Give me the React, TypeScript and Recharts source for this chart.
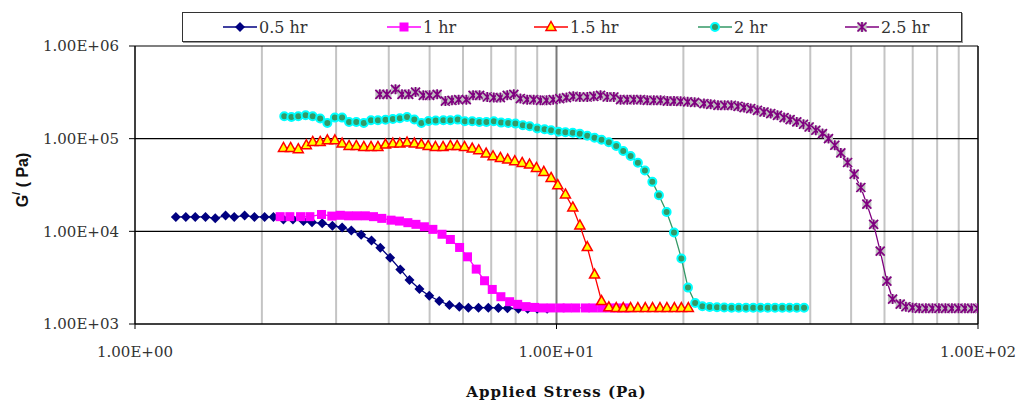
import React from 'react'
import { LineChart, Line, XAxis, YAxis, ReferenceLine } from 'recharts'

// stress (Pa) and storage modulus G' (Pa), one pair of arrays per curing time
const stress05 = [1.25, 1.32, 1.39, 1.47, 1.55, 1.64, 1.72, 1.82, 1.92, 2.03, 2.13, 2.25, 2.37, 2.51, 2.63, 2.78, 2.94, 3.10, 3.26, 3.44, 3.64, 3.82, 4.03, 4.26, 4.48, 4.73, 4.99, 5.27, 5.57, 5.88, 6.18, 6.53, 6.89, 7.28, 7.65, 8.12, 8.54, 9.00, 9.50]
const g05 = [14300, 14300, 14300, 14300, 13800, 14800, 14300, 14800, 14300, 14300, 14300, 13400, 13400, 12900, 12500, 12200, 11500, 11000, 10200, 9160, 7980, 6640, 5180, 3880, 2980, 2380, 2020, 1770, 1600, 1535, 1500, 1500, 1500, 1490, 1480, 1460, 1460, 1460, 1460]

const stress1 = [2.21, 2.33, 2.47, 2.60, 2.77, 2.93, 3.07, 3.21, 3.36, 3.52, 3.68, 3.85, 4.05, 4.24, 4.44, 4.64, 4.86, 5.09, 5.35, 5.60, 5.89, 6.15, 6.45, 6.75, 7.04, 7.38, 7.74, 8.09, 8.47, 8.87, 9.28, 9.71, 10.2, 10.6, 11.1, 11.7, 12.2, 12.8, 13.4, 14.0, 14.7]
const g1 = [14400, 14400, 14400, 14400, 15200, 14600, 14900, 14700, 14700, 14700, 14400, 13800, 13200, 12900, 12400, 11900, 11200, 10500, 9300, 8170, 6700, 5310, 3910, 2930, 2360, 1970, 1740, 1630, 1540, 1510, 1490, 1490, 1490, 1490, 1490, 1490, 1490, 1490, 1490, 1490, 1490]

const stress15 = [2.25, 2.34, 2.44, 2.55, 2.64, 2.75, 2.86, 2.98, 3.10, 3.22, 3.35, 3.49, 3.63, 3.77, 3.93, 4.09, 4.25, 4.42, 4.60, 4.78, 4.96, 5.16, 5.38, 5.60, 5.81, 6.05, 6.31, 6.54, 6.81, 7.07, 7.36, 7.66, 7.96, 8.29, 8.63, 8.96, 9.33, 9.71, 10.07, 10.50, 10.93, 11.36, 11.83, 12.31, 12.79, 13.31, 13.86, 14.40, 14.99, 15.60, 16.24, 16.90, 17.60, 18.28, 19.04, 19.78, 20.55]
const g15 = [79400, 79400, 76900, 84900, 92100, 92100, 96100, 96100, 88600, 83400, 83400, 81400, 81400, 81400, 86400, 88600, 88600, 90800, 88600, 86400, 83400, 81400, 81400, 83400, 83400, 81400, 78200, 75000, 69100, 64600, 61900, 59500, 57100, 54700, 52600, 48300, 43800, 37700, 31500, 25000, 18100, 11580, 6760, 3415, 1770, 1514, 1487, 1487, 1487, 1487, 1487, 1487, 1487, 1487, 1487, 1487, 1487]

const stress2 = [2.26, 2.35, 2.44, 2.54, 2.64, 2.75, 2.86, 2.98, 3.10, 3.22, 3.35, 3.49, 3.63, 3.77, 3.93, 4.09, 4.25, 4.42, 4.60, 4.78, 4.97, 5.17, 5.39, 5.60, 5.83, 6.06, 6.31, 6.56, 6.82, 7.10, 7.39, 7.68, 7.99, 8.32, 8.64, 9.00, 9.37, 9.71, 10.11, 10.50, 10.93, 11.36, 11.83, 12.31, 12.79, 13.31, 13.86, 14.40, 14.99, 15.60, 16.21, 16.88, 17.50, 18.25, 19.00, 19.78, 20.51, 21.33, 22.19, 23.09, 24.03, 25.00, 26.02, 27.06, 28.16, 29.29, 30.48, 31.71, 33.00, 34.33, 35.73, 37.16, 38.67]
const g2 = [174300, 171300, 174300, 178700, 174300, 164700, 147700, 168800, 168800, 151400, 151400, 147700, 157900, 157900, 159800, 163100, 165900, 171300, 161000, 147700, 155100, 156700, 157900, 157900, 160600, 154000, 154000, 151400, 151400, 154000, 149100, 147700, 145400, 139400, 136000, 128500, 126300, 123200, 118700, 117200, 115800, 112900, 107500, 102200, 97300, 91500, 83200, 73700, 64900, 55000, 45300, 34200, 24500, 16200, 9730, 5100, 2470, 1684, 1551, 1525, 1514, 1506, 1500, 1500, 1500, 1500, 1500, 1500, 1500, 1500, 1500, 1500, 1500]

const stress25 = [3.81, 3.96, 4.15, 4.30, 4.46, 4.63, 4.83, 5.00, 5.21, 5.45, 5.65, 5.86, 6.11, 6.34, 6.57, 6.85, 7.10, 7.36, 7.64, 7.92, 8.21, 8.52, 8.83, 9.16, 9.47, 9.82, 10.18, 10.56, 10.96, 11.36, 11.83, 12.26, 12.72, 13.19, 13.68, 14.19, 14.72, 15.26, 15.83, 16.42, 17.02, 17.66, 18.32, 19.00, 19.70, 20.47, 21.27, 22.38, 23.22, 24.16, 25.06, 26.00, 26.96, 27.86, 28.89, 29.97, 31.07, 32.23, 33.44, 34.67, 35.83, 37.16, 38.55, 39.75, 41.23, 42.76, 44.19, 45.74, 47.27, 49.04, 50.84, 52.73, 54.49, 56.54, 58.61, 60.79, 62.72, 65.37, 67.45, 69.96, 72.54, 75.24, 77.97, 80.78, 83.70, 86.73, 89.87, 93.14, 96.50, 99.8]
const g25 = [300900, 300900, 340700, 300900, 300900, 318600, 293700, 293700, 300900, 254800, 259300, 263800, 263800, 293700, 293700, 281500, 277300, 277300, 293700, 300900, 270500, 263800, 263800, 259300, 259300, 263800, 270500, 277300, 286400, 281500, 281500, 286400, 293700, 281500, 281500, 263800, 263800, 263800, 263800, 259300, 259300, 259300, 254800, 254800, 252900, 249800, 246700, 238900, 234800, 229000, 229000, 229000, 223400, 216300, 211000, 202300, 194000, 186400, 178700, 168800, 160600, 151400, 143000, 133700, 123200, 113500, 100300, 84900, 70100, 55300, 41340, 29720, 19640, 11870, 6120, 2907, 1860, 1642, 1536, 1500, 1477, 1477, 1477, 1477, 1477, 1477, 1477, 1477, 1477, 1477]

const xTicks = [1, 10, 100]
const yTicks = [1000, 10000, 100000, 1000000]
const minorStress = [2, 3, 4, 5, 6, 7, 8, 9, 20, 30, 40, 50, 60, 70, 80, 90]

const sci = (v: number) => {
  const e = Math.round(Math.log10(v))
  return `1.00E+${String(e).padStart(2, '0')}`
}

const zip = (xs: number[], ys: number[]) => xs.map((x, i) => ({ x, y: ys[i] }))

type M = { cx: number; cy: number }

const Diamond = ({ cx, cy }: M) => (
  <polygon points={`${cx},${cy - 5} ${cx + 5},${cy} ${cx},${cy + 5} ${cx - 5},${cy}`} fill="#000080" />
)
const Square = ({ cx, cy }: M) => (
  <rect x={cx - 4.5} y={cy - 4.5} width={9} height={9} fill="#FF00FF" />
)
const Tri = ({ cx, cy }: M) => (
  <polygon points={`${cx},${cy - 5.5} ${cx + 5},${cy + 3.5} ${cx - 5},${cy + 3.5}`} fill="#FFFF00" stroke="#FF0000" strokeWidth={1.5} />
)
const Dot = ({ cx, cy }: M) => (
  <circle cx={cx} cy={cy} r={4} fill="#339966" stroke="#00FFFF" strokeWidth={2} />
)
const Star = ({ cx, cy }: M) => (
  <g>
    <rect x={cx - 4.5} y={cy - 4.5} width={9} height={9} fill="#C0C0C0" />
    <path d={`M${cx - 4.5},${cy - 4.5}L${cx + 4.5},${cy + 4.5}M${cx - 4.5},${cy + 4.5}L${cx + 4.5},${cy - 4.5}M${cx},${cy - 5}L${cx},${cy + 5}`} stroke="#800080" strokeWidth={1.7} />
  </g>
)

const series = [
  { name: '0.5 hr', color: '#000080', data: zip(stress05, g05), Marker: Diamond, left: 223 },
  { name: '1 hr', color: '#FF00FF', data: zip(stress1, g1), Marker: Square, left: 387 },
  { name: '1.5 hr', color: '#FF0000', data: zip(stress15, g15), Marker: Tri, left: 534 },
  { name: '2 hr', color: '#339966', data: zip(stress2, g2), Marker: Dot, left: 698 },
  { name: '2.5 hr', color: '#800080', data: zip(stress25, g25), Marker: Star, left: 845 },
]

const tickFont = { fontFamily: 'DejaVu Serif', fontSize: 15, fill: '#333' }

function LegendBox() {
  return (
    <div
      style={{
        position: 'absolute', left: 182, top: 12, width: 778, height: 28,
        border: '1px solid #333', boxShadow: '1px 1px 0 #999', background: '#fff',
      }}
    >
      {series.map(s => (
        <div key={s.name} style={{ position: 'absolute', left: s.left - 183, top: 0, height: 28, display: 'flex', alignItems: 'center' }}>
          <svg width={34} height={16}>
            <line x1={0} y1={8} x2={34} y2={8} stroke={s.color} strokeWidth={1.5} />
            <s.Marker cx={17} cy={8} />
          </svg>
          <span style={{ marginLeft: 2, fontFamily: 'DejaVu Serif', fontSize: 16, color: '#333' }}>{s.name}</span>
        </div>
      ))}
    </div>
  )
}

export default function App() {
  return (
    <div style={{ position: 'absolute', left: 0, top: 0, width: 1017, height: 403, background: '#fff' }}>
      <LineChart width={1017} height={403} margin={{ top: 46, right: 39, bottom: 0, left: 0 }}>
        <XAxis
          type="number"
          dataKey="x"
          scale="log"
          domain={[1, 100]}
          ticks={xTicks}
          allowDataOverflow
          tickFormatter={sci}
          tick={tickFont}
          tickSize={5}
          tickMargin={17}
          height={79}
          stroke="#000"
          axisLine={{ stroke: '#000', strokeWidth: 1.5 }}
          label={{
            content: (p: any) => (
              <text
                x={p.viewBox.x + p.viewBox.width / 2}
                y={397}
                textAnchor="middle"
                fontFamily="DejaVu Serif"
                fontWeight="bold"
                fontSize={15}
                letterSpacing={1}
                fill="#111"
              >
                Applied Stress (Pa)
              </text>
            ),
          }}
        />
        <YAxis
          type="number"
          dataKey="y"
          scale="log"
          domain={[1000, 1000000]}
          ticks={yTicks}
          allowDataOverflow
          tickFormatter={sci}
          tick={tickFont}
          tickSize={6}
          tickMargin={10}
          width={135}
          stroke="#000"
          axisLine={{ stroke: '#000', strokeWidth: 1.5 }}
          label={{
            content: () => (
              <text
                x={22}
                y={180}
                transform="rotate(-90 22 180)"
                textAnchor="middle"
                dominantBaseline="central"
                fontFamily="Liberation Sans"
                fontWeight="bold"
                fontSize={16}
                fill="#111"
              >
                G<tspan dy={-6} fontSize={11}>/</tspan><tspan dy={6}> ( Pa)</tspan>
              </text>
            ),
          }}
        />
        {minorStress.map(v => (
          <ReferenceLine key={'m' + v} x={v} stroke="#c4c4c4" strokeWidth={2} />
        ))}
        <ReferenceLine x={10} stroke="#7a7a7a" strokeWidth={2} />
        <ReferenceLine x={100} stroke="#000" strokeWidth={1.5} />
        {[10000, 100000, 1000000].map(v => (
          <ReferenceLine key={'h' + v} y={v} stroke="#000" strokeWidth={1.2} />
        ))}
        {series.map(s => (
          <Line
            key={s.name}
            name={s.name}
            data={s.data}
            dataKey="y"
            stroke={s.color}
            strokeWidth={1.3}
            isAnimationActive={false}
            dot={(p: any) => (
              <g key={`${s.name}-${p.index}`}>
                <s.Marker cx={p.cx} cy={p.cy} />
              </g>
            )}
            activeDot={false}
          />
        ))}
      </LineChart>
      <LegendBox />
    </div>
  )
}
